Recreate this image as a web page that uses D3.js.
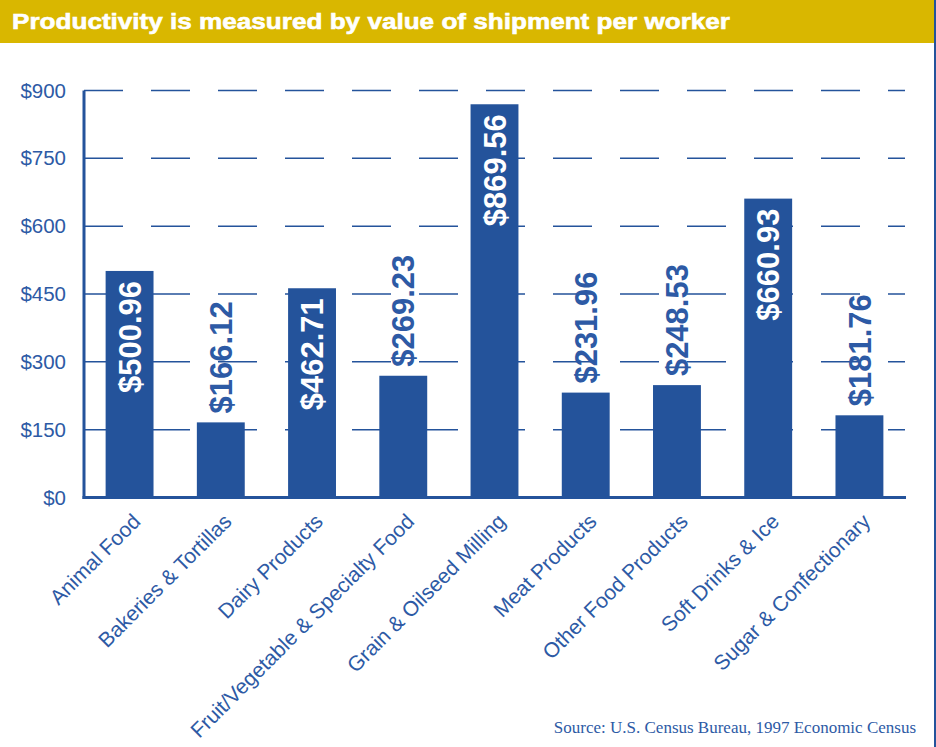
<!DOCTYPE html>
<html>
<head>
<meta charset="utf-8">
<script src="https://cdn.jsdelivr.net/npm/d3@7/dist/d3.min.js"></script>
<style>
    html, body { margin: 0; padding: 0; background: #ffffff; }
    svg { display: block; }
</style>
</head>
<body>
<svg id="chart"></svg>
<script>
var categories = ['Animal Food', 'Bakeries & Tortillas', 'Dairy Products',
    'Fruit/Vegetable & Specialty Food', 'Grain & Oilseed Milling', 'Meat Products',
    'Other Food Products', 'Soft Drinks & Ice', 'Sugar & Confectionary'];
var values = [500.96, 166.12, 462.71, 269.23, 869.56, 231.96, 248.53, 660.93, 181.76];
var yTicks = [0, 150, 300, 450, 600, 750, 900];
var title = 'Productivity is measured by value of shipment per worker';
var source = 'Source: U.S. Census Bureau, 1997 Economic Census';

var width = 936,
    height = 747,
    margin = { top: 90.5, left: 84, right: 31, bottom: 249.5 },
    innerWidth = width - margin.left - margin.right,
    innerHeight = height - margin.top - margin.bottom,
    blue = '#24539b',
    textBlue = '#2d5aa5',
    gold = '#d9b700';

var data = categories.map(function (c, i) {
    return { name: c, value: values[i] };
});

var svg = d3.select('#chart')
    .attr('width', width)
    .attr('height', height);

// title band
svg.append('rect')
    .attr('x', 0).attr('y', 0)
    .attr('width', 934).attr('height', 43)
    .attr('fill', gold);

svg.append('text')
    .attr('x', 12)
    .attr('y', 29)
    .attr('fill', '#ffffff')
    .attr('stroke', '#ffffff')
    .attr('stroke-width', 0.6)
    .attr('textLength', 718)
    .attr('lengthAdjust', 'spacingAndGlyphs')
    .style('font-family', '"Liberation Sans", Arial, sans-serif')
    .style('font-weight', 'bold')
    .style('font-size', '22px')
    .text(title);

// right border
svg.append('line')
    .attr('x1', 935).attr('x2', 935)
    .attr('y1', 0).attr('y2', height)
    .attr('stroke', blue)
    .attr('stroke-width', 2);

var chart = svg.append('g')
    .attr('transform', 'translate(' + margin.left + ', ' + margin.top + ')');

var x = d3.scaleBand()
    .range([0, innerWidth])
    .domain(categories)
    .paddingInner(0.475)
    .paddingOuter(0.237);

var y = d3.scaleLinear()
    .range([innerHeight, 0])
    .domain([0, 900]);

// dashed grid lines
chart.append('g')
    .attr('class', 'grid')
    .selectAll('line')
    .data(yTicks.slice(1))
    .enter().append('line')
    .attr('x1', 0)
    .attr('x2', innerWidth)
    .attr('y1', function (d) { return y(d); })
    .attr('y2', function (d) { return y(d); })
    .attr('stroke', blue)
    .attr('stroke-width', 1.5)
    .attr('stroke-dasharray', '39,28');

// y axis
var yAxis = d3.axisLeft(y)
    .tickValues(yTicks)
    .tickSize(0)
    .tickPadding(18)
    .tickFormat(function (d) { return '$' + d; });

var yG = chart.append('g')
    .attr('class', 'y axis')
    .call(yAxis);
yG.select('.domain').remove();
yG.selectAll('text')
    .attr('fill', textBlue)
    .style('font-family', '"Liberation Sans", Arial, sans-serif')
    .style('font-size', '20.5px');

// bars
chart.selectAll('.bar')
    .data(data)
    .enter().append('rect')
    .attr('class', 'bar')
    .attr('x', function (d) { return x(d.name); })
    .attr('y', function (d) { return y(d.value); })
    .attr('width', x.bandwidth())
    .attr('height', function (d) { return innerHeight - y(d.value); })
    .attr('fill', blue);

// axis lines
chart.append('line')
    .attr('x1', 0).attr('x2', 0)
    .attr('y1', 0).attr('y2', innerHeight + 1.5)
    .attr('stroke', blue)
    .attr('stroke-width', 3);
chart.append('line')
    .attr('x1', -1.5).attr('x2', innerWidth + 1)
    .attr('y1', innerHeight).attr('y2', innerHeight)
    .attr('stroke', blue)
    .attr('stroke-width', 3);

// value labels, inside tall bars, above short ones
chart.selectAll('.value')
    .data(data)
    .enter().append('text')
    .attr('class', 'value')
    .attr('transform', function (d) {
        var inside = d.value > 300;
        var ty = inside ? y(d.value) + 10 : y(d.value) - 9;
        return 'translate(' + (x(d.name) + x.bandwidth() / 2) + ',' + ty + ') rotate(-90)';
    })
    .attr('dy', '0.36em')
    .style('text-anchor', function (d) { return d.value > 300 ? 'end' : 'start'; })
    .attr('fill', function (d) { return d.value > 300 ? '#ffffff' : textBlue; })
    .style('font-family', '"Liberation Sans", Arial, sans-serif')
    .style('font-weight', 'bold')
    .style('font-size', '31px')
    .text(function (d) { return '$' + d.value.toFixed(2); });

// category labels
chart.selectAll('.cat')
    .data(categories)
    .enter().append('text')
    .attr('class', 'cat')
    .attr('transform', function (d) {
        return 'translate(' + (x(d) + x.bandwidth() / 2 + 7) + ',' + (innerHeight + 20) + ') rotate(-45)';
    })
    .attr('dy', '0.35em')
    .style('text-anchor', 'end')
    .attr('fill', textBlue)
    .style('font-family', '"Liberation Sans", Arial, sans-serif')
    .style('font-size', '21px')
    .text(function (d) { return d; });

// source
svg.append('text')
    .attr('x', 916)
    .attr('y', 733)
    .style('text-anchor', 'end')
    .attr('fill', textBlue)
    .style('font-family', '"Liberation Serif", "Times New Roman", serif')
    .style('font-size', '17px')
    .text(source);
</script>
</body>
</html>
